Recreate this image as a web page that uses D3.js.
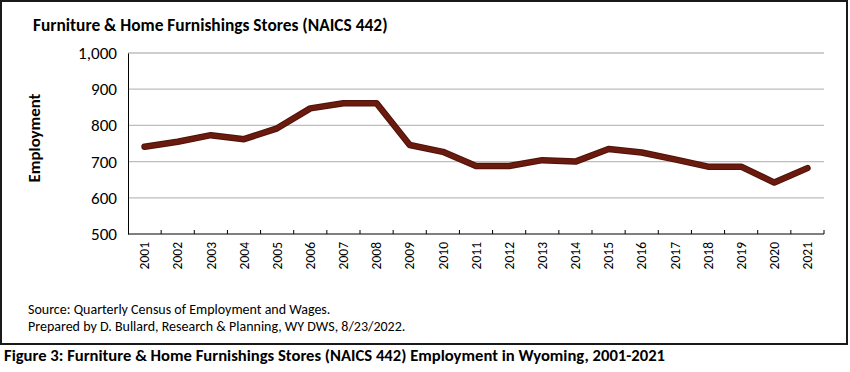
<!DOCTYPE html>
<html>
<head>
<meta charset="utf-8">
<script src="https://cdn.jsdelivr.net/npm/d3@7"></script>
<style>
  html, body { margin: 0; padding: 0; background: #fff; }
  svg { display: block; }
  text { font-family: Carlito, Lato, sans-serif; fill: #000; }
</style>
</head>
<body>
<svg id="chart" width="850" height="372"></svg>
<script>
const years = ['2001', '2002', '2003', '2004', '2005', '2006', '2007', '2008', '2009', '2010', '2011',
  '2012', '2013', '2014', '2015', '2016', '2017', '2018', '2019', '2020', '2021'];
const employment = [741, 755, 773, 762, 792, 847, 861, 861, 746, 727, 688, 688, 704, 700, 735, 725, 706, 686, 686, 642, 682];
const yTicks = [500, 600, 700, 800, 900, 1000];

const svg = d3.select('#chart');

// scale the font of a selection so its first text spans `target` px
function fitWidth(sel, target) {
  const w = sel.node().getComputedTextLength();
  const fs = parseFloat(sel.style('font-size'));
  sel.style('font-size', (fs * target / w) + 'px');
  return sel;
}

// Frame around the chart
svg.append('rect')
  .attr('x', 1).attr('y', 1)
  .attr('width', 846).attr('height', 343)
  .attr('fill', 'none')
  .attr('stroke', '#1a1a1a')
  .attr('stroke-width', 2);

const x = d3.scaleBand().domain(years).range([128, 824]);
const y = d3.scaleLinear().domain([500, 1000]).range([234, 53]);

// Gridlines
svg.append('g')
  .selectAll('line')
  .data(yTicks.slice(1))
  .join('line')
  .attr('x1', 128).attr('x2', 824)
  .attr('y1', d => y(d)).attr('y2', d => y(d))
  .attr('stroke', '#bdbdbd')
  .attr('stroke-width', 1.3);

// Y axis
const yAxis = svg.append('g')
  .attr('transform', 'translate(128,0)')
  .call(d3.axisLeft(y).tickValues(yTicks).tickSize(0).tickPadding(11).tickFormat(d3.format(',')));
yAxis.attr('font-family', null).attr('font-size', null);
yAxis.select('.domain').attr('stroke', '#000').attr('stroke-width', 1);
const yLabels = yAxis.selectAll('text').style('font-size', '15px');
const topLabel = fitWidth(yLabels.filter(d => d === 1000), 39);
yLabels.style('font-size', topLabel.style('font-size'));

// X axis: ticks on band boundaries, pointing up
const bounds = years.map(d => x(d)).concat([x.range()[1]]);
const xAxis = svg.append('g').attr('transform', 'translate(0,234)');
xAxis.append('line')
  .attr('x1', 128).attr('x2', 824)
  .attr('stroke', '#000').attr('stroke-width', 1);
xAxis.selectAll('line.tick')
  .data(bounds.slice(1))
  .join('line')
  .attr('class', 'tick')
  .attr('x1', d => d).attr('x2', d => d)
  .attr('y1', 0).attr('y2', -4)
  .attr('stroke', '#000').attr('stroke-width', 1);
xAxis.selectAll('text')
  .data(years)
  .join('text')
  .attr('transform', d => `translate(${x(d) + x.bandwidth() / 2},8) rotate(-90)`)
  .attr('text-anchor', 'end')
  .attr('dy', '0.35em')
  .style('font-size', '13.5px')
  .text(d => d);

// Line
const line = d3.line()
  .x((d, i) => x(years[i]) + x.bandwidth() / 2)
  .y(d => y(d));

svg.append('path')
  .datum(employment)
  .attr('fill', 'none')
  .attr('stroke', '#4e120a')
  .attr('stroke-width', 6.5)
  .attr('stroke-linejoin', 'round')
  .attr('stroke-linecap', 'round')
  .attr('d', line);
svg.append('path')
  .datum(employment)
  .attr('fill', 'none')
  .attr('stroke', '#6b1a0e')
  .attr('stroke-width', 4.5)
  .attr('stroke-linejoin', 'round')
  .attr('stroke-linecap', 'round')
  .attr('d', line);

// Titles and notes
fitWidth(svg.append('text')
  .attr('x', 33).attr('y', 31)
  .style('font-size', '16px').style('font-weight', 'bold')
  .text('Furniture & Home Furnishings Stores (NAICS 442)'), 355);

fitWidth(svg.append('text')
  .attr('transform', 'translate(40,138) rotate(-90)')
  .attr('text-anchor', 'middle')
  .style('font-size', '14px').style('font-weight', 'bold')
  .text('Employment'), 89);

svg.append('text')
  .attr('x', 28).attr('y', 314)
  .style('font-size', '14px')
  .text('Source: Quarterly Census of Employment and Wages.');
svg.append('text')
  .attr('x', 28).attr('y', 331)
  .style('font-size', '14px')
  .text('Prepared by D. Bullard, Research & Planning, WY DWS, 8/23/2022.');

fitWidth(svg.append('text')
  .attr('x', 4).attr('y', 361)
  .style('font-size', '16px').style('font-weight', 'bold')
  .text('Figure 3: Furniture & Home Furnishings Stores (NAICS 442) Employment in Wyoming, 2001-2021'), 662);
</script>
</body>
</html>
